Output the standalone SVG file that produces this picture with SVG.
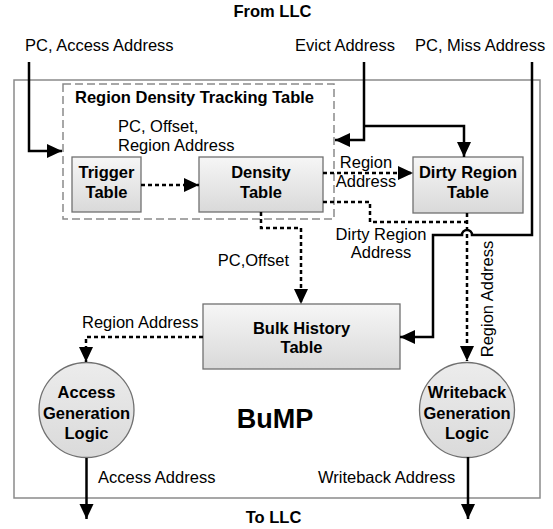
<svg xmlns="http://www.w3.org/2000/svg" width="553" height="529" viewBox="0 0 553 529">
<defs>
<linearGradient id="boxg" x1="0" y1="0" x2="0" y2="1">
<stop offset="0" stop-color="#f6f6f6"/>
<stop offset="1" stop-color="#d9d9d9"/>
</linearGradient>
<linearGradient id="circg" x1="0" y1="0" x2="0" y2="1">
<stop offset="0" stop-color="#ececec"/>
<stop offset="1" stop-color="#dadada"/>
</linearGradient>
<marker id="arr" markerUnits="userSpaceOnUse" markerWidth="16" markerHeight="16" viewBox="0 0 16 16" refX="15" refY="8" orient="auto">
<path d="M0,1 L15,8 L0,15 Z" fill="#000"/>
</marker>
</defs>
<style>
text{font-family:"Liberation Sans",Arial,sans-serif;font-size:16.5px;fill:#000}
.b{font-weight:bold}
.c{text-anchor:middle}
.box{fill:url(#boxg);stroke:#707070;stroke-width:1.3}
.circ{fill:url(#circg);stroke:#707070;stroke-width:1.3}
.solid{fill:none;stroke:#000;stroke-width:2.5}
.dash{fill:none;stroke:#000;stroke-width:2.5;stroke-dasharray:4 3}
.arr{marker-end:url(#arr)}
</style>
<rect width="553" height="529" fill="#fff"/>

<g id="bump">
<rect x="14" y="80" width="526" height="418" fill="none" stroke="#8a8a8a" stroke-width="1.5"/>
<text x="275" y="428" class="b c" style="font-size:27px">BuMP</text>
</g>

<g id="rdtt">
<rect x="63" y="84" width="271" height="135" fill="none" stroke="#8a8a8a" stroke-width="1.5" stroke-dasharray="8 4"/>
<text x="75" y="103" class="b">Region Density Tracking Table</text>
</g>

<g id="trigger">
<rect x="72" y="157" width="69" height="55" class="box"/>
<text x="106.5" y="178" class="b c">Trigger</text>
<text x="106.5" y="198" class="b c">Table</text>
</g>

<g id="density">
<rect x="199" y="157" width="124" height="55" class="box"/>
<text x="261" y="178" class="b c">Density</text>
<text x="261" y="198" class="b c">Table</text>
</g>

<g id="dirty">
<rect x="413" y="157" width="110" height="56" class="box"/>
<text x="468" y="178" class="b c">Dirty Region</text>
<text x="468" y="198" class="b c">Table</text>
</g>

<g id="bulk">
<rect x="203" y="304" width="197" height="65" class="box"/>
<text x="301.5" y="334" class="b c">Bulk History</text>
<text x="301.5" y="353" class="b c">Table</text>
</g>

<g id="access">
<circle cx="86.5" cy="410" r="47.5" class="circ"/>
<text x="86.5" y="398" class="b c">Access</text>
<text x="86.5" y="419" class="b c">Generation</text>
<text x="86.5" y="439" class="b c">Logic</text>
</g>

<g id="writeback">
<circle cx="467" cy="410" r="47.5" class="circ"/>
<text x="467" y="398" class="b c">Writeback</text>
<text x="467" y="419" class="b c">Generation</text>
<text x="467" y="439" class="b c">Logic</text>
</g>

<g id="connectors">
<path d="M29,62 V151 H62" class="solid arr"/>
<path d="M364,62 V140 H335" class="solid arr"/>
<path d="M364,126 H464 V157" class="solid arr"/>
<path d="M532,62 V235 H472 A5,5 0 0 0 462,235 H433 V337 H400" class="solid arr"/>
<path d="M141,185 H199" class="dash arr"/>
<path d="M323,173 H413" class="dash arr"/>
<path d="M323,202 H370 V222 H467" class="dash"/>
<path d="M467,213 V361" class="dash arr"/>
<path d="M261,212 V228 H301 V304" class="dash arr"/>
<path d="M203,337 H86 V362" class="dash arr"/>
<path d="M86.5,458 V519" class="solid arr"/>
<path d="M468,457 V519" class="solid arr"/>
</g>

<g id="labels">
<text x="272.5" y="17" class="b c">From LLC</text>
<text x="25" y="51">PC, Access Address</text>
<text x="295" y="51">Evict Address</text>
<text x="415" y="51">PC, Miss Address</text>
<text x="118" y="132">PC, Offset,</text>
<text x="118" y="150.5">Region Address</text>
<text x="366" y="168" class="c">Region</text>
<text x="366" y="187" class="c">Address</text>
<text x="381" y="240" class="c">Dirty Region</text>
<text x="381" y="258" class="c">Address</text>
<text x="289" y="266" style="text-anchor:end">PC,Offset</text>
<text x="82" y="328">Region Address</text>
<text transform="translate(493,299) rotate(-90)" class="c">Region Address</text>
<text x="98" y="483">Access Address</text>
<text x="318" y="483">Writeback Address</text>
<text x="273.5" y="523" class="b c">To LLC</text>
</g>
</svg>
